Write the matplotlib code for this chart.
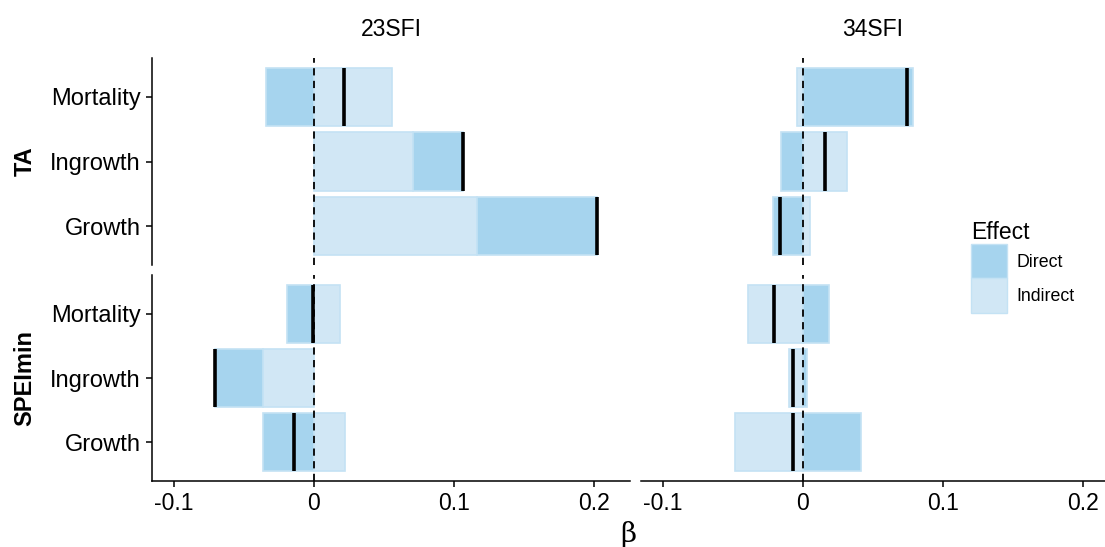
import numpy as np
import matplotlib
matplotlib.use("Agg")
import matplotlib.pyplot as plt
from matplotlib.patches import Patch

plt.rcParams["font.family"] = ["Liberation Sans", "DejaVu Sans"]

# categories, bottom to top
categories = ["Growth", "Ingrowth", "Mortality"]
columns = ["23SFI", "34SFI"]
rows = ["TA", "SPEImin"]

# direct / indirect effects per panel (Growth, Ingrowth, Mortality)
direct_ta_23 = [0.0852, 0.0357, -0.0345]
indirect_ta_23 = [0.1167, 0.0710, 0.0560]
direct_ta_34 = [-0.0217, -0.0157, 0.0788]
indirect_ta_34 = [0.0050, 0.0317, -0.0045]
direct_spei_23 = [-0.0367, -0.0345, -0.0195]
indirect_spei_23 = [0.0221, -0.0362, 0.0186]
direct_spei_34 = [0.0414, 0.0026, 0.0186]
indirect_spei_34 = [-0.0486, -0.0100, -0.0395]

panel_data = {
    ("TA", "23SFI"): (direct_ta_23, indirect_ta_23),
    ("TA", "34SFI"): (direct_ta_34, indirect_ta_34),
    ("SPEImin", "23SFI"): (direct_spei_23, indirect_spei_23),
    ("SPEImin", "34SFI"): (direct_spei_34, indirect_spei_34),
}

xticks = [-0.1, 0, 0.1, 0.2]
xticklabels = ["-0.1", "0", "0.1", "0.2"]

DIRECT_COL = "#a6d4ee"
INDIRECT_COL = "#d1e7f5"
EDGE_COL = "#c4e2f4"

W, H = 1105, 547
fig = plt.figure(figsize=(W / 100, H / 100), dpi=100)

col_px = {"23SFI": (152, 630, (-0.1157, 0.2257)), "34SFI": (641, 1105, (-0.1157, 0.2157))}
row_px = {"TA": (58, 265), "SPEImin": (275, 481)}

for r in rows:
    for c in columns:
        x0, x1, xlim = col_px[c]
        y0, y1 = row_px[r]
        ax = fig.add_axes([x0 / W, 1 - y1 / H, (x1 - x0) / W, (y1 - y0) / H])
        direct, indirect = panel_data[(r, c)]
        y = np.arange(len(categories))
        pos = np.zeros(len(y))
        neg = np.zeros(len(y))
        # ggplot stacking: Indirect nearest zero, Direct outside
        for vals, col in ((indirect, INDIRECT_COL), (direct, DIRECT_COL)):
            vals = np.array(vals)
            left = np.where(vals >= 0, pos, neg)
            ax.barh(y, vals, left=left, height=0.9, color=col,
                    edgecolor=EDGE_COL, linewidth=1.2, zorder=2)
            pos = np.where(vals >= 0, pos + vals, pos)
            neg = np.where(vals < 0, neg + vals, neg)
        total = np.array(direct) + np.array(indirect)
        ax.axvline(0, color="black", ls=(0, (4, 3)), lw=1.3, zorder=3)
        ax.vlines(total, y - 0.45, y + 0.45, color="black", lw=2.6, zorder=4)
        ax.set_xlim(*xlim)
        ax.set_ylim(-0.6, 2.6)
        for s in ("top", "right"):
            ax.spines[s].set_visible(False)
        ax.spines["left"].set_linewidth(1.1)
        ax.spines["bottom"].set_linewidth(1.1)
        if c == "23SFI":
            ax.set_yticks(y)
            ax.set_yticklabels(categories, fontsize=17)
            ax.tick_params(axis="y", length=4, width=1.1, pad=4)
        else:
            ax.spines["left"].set_visible(False)
            ax.set_yticks([])
        if r == "SPEImin":
            ax.set_xticks(xticks)
            ax.set_xticklabels(xticklabels, fontsize=16.5)
            ax.tick_params(axis="x", length=4, width=1.1, pad=4)
        else:
            ax.spines["bottom"].set_visible(False)
            ax.set_xticks([])

for c in columns:
    x0, x1, _ = col_px[c]
    fig.text((x0 + x1) / 2 / W, 1 - 30 / H, c, ha="center", va="center", fontsize=16.5)
for r in rows:
    y0, y1 = row_px[r]
    fig.text(25 / W, 1 - (y0 + y1) / 2 / H, r, ha="center", va="center",
             rotation=90, fontsize=17, fontweight="bold")

fig.text(628 / W, 1 - 535 / H, "β", ha="center", va="center", fontsize=20,
         family="DejaVu Serif")

handles = [Patch(facecolor=DIRECT_COL, edgecolor=EDGE_COL, label="Direct"),
           Patch(facecolor=INDIRECT_COL, edgecolor=EDGE_COL, label="Indirect")]
leg = fig.legend(handles=handles, loc="upper left", bbox_to_anchor=(955 / W, 1 - 205 / H),
                 title="Effect", fontsize=12.8, title_fontsize=16.5, frameon=False,
                 handlelength=2.0, handleheight=2.6, labelspacing=0.0,
                 handletextpad=0.55, alignment="left")

fig.savefig("out.png", dpi=100)
